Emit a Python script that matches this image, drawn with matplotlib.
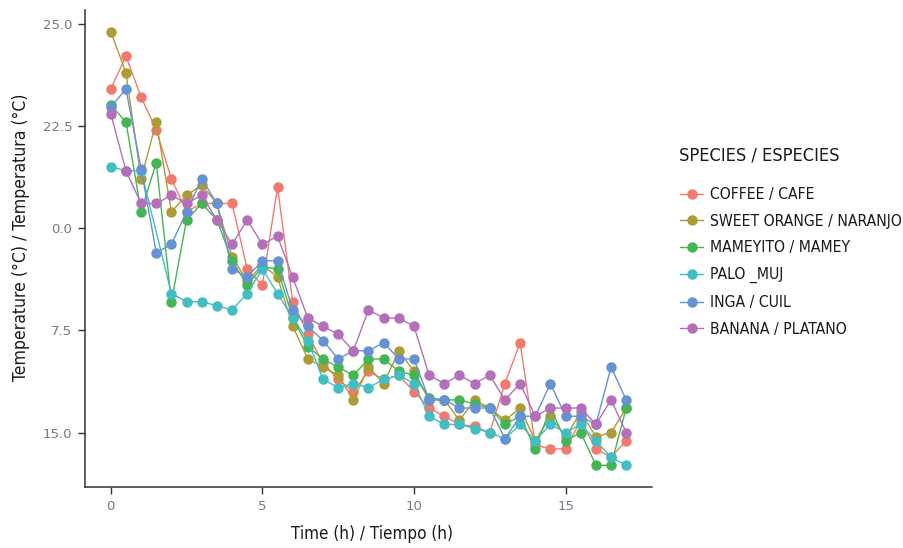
import numpy as np
import matplotlib
matplotlib.use('Agg')
import matplotlib.pyplot as plt
from matplotlib import font_manager
from matplotlib.font_manager import FontProperties
from matplotlib.textpath import TextPath

# time in hours (0 .. 17, every half hour)
time_h = np.arange(0, 17.5, 0.5)

coffee = [23.4, 24.2, 23.2, 22.4, 21.2, 20.4, 20.6, 20.6, 20.6, 19.0, 18.6, 21.0,
          18.2, 17.4, 16.7, 16.3, 16.0, 16.5, 16.3, 16.4, 16.0, 15.6, 15.4, 15.2,
          15.15, 15.0, 16.2, 17.2, 14.7, 14.6, 14.6, 15.3, 14.6, 14.4, 14.8]
orange = [24.8, 23.8, 21.2, 22.6, 20.4, 20.8, 21.05, 20.6, 19.3, 18.7, 19.1, 18.8,
          17.6, 16.8, 16.6, 16.4, 15.8, 16.6, 16.2, 17.0, 16.5, 15.8, 15.8, 15.3,
          15.8, 15.6, 15.3, 15.6, 14.8, 15.4, 14.9, 15.5, 14.9, 15.0, 15.6]
mamey = [23.0, 22.6, 20.4, 21.6, 18.2, 20.2, 20.6, 20.2, 19.2, 18.6, 19.05, 19.0,
         17.8, 17.1, 16.8, 16.6, 16.4, 16.8, 16.8, 16.5, 16.4, 15.85, 15.8, 15.8,
         15.7, 15.6, 15.2, 15.4, 14.6, 15.6, 14.8, 15.0, 14.2, 14.2, 15.6]
palo = [21.5, 21.4, 21.4, np.nan, 18.4, 18.2, 18.2, 18.1, 18.0, 18.4, 19.0, 18.4,
        17.8, 17.25, 16.3, 16.1, 16.2, 16.1, 16.3, 16.4, 16.2, 15.4, 15.2, 15.2,
        15.1, 15.0, 14.85, 15.2, 14.8, 15.2, 15.0, 15.2, 14.8, 14.4, 14.2]
inga = [22.95, 23.4, 21.45, 19.4, 19.6, 20.4, 21.2, 20.6, 19.0, 18.8, 19.2, 19.2,
        18.0, 17.6, 17.25, 16.8, 17.0, 17.0, 17.2, 16.8, 16.8, 15.8, 15.8, 15.6,
        15.6, 15.6, 14.85, 15.4, 15.4, 16.2, 15.4, 15.4, 15.2, 16.6, 15.8]
banana = [22.8, 21.4, 20.6, 20.6, 20.8, 20.6, 20.8, 20.2, 19.6, 20.2, 19.6, 19.8,
          18.8, 17.8, 17.6, 17.4, 17.0, 18.0, 17.8, 17.8, 17.6, 16.4, 16.2, 16.4,
          16.2, 16.4, 15.8, 16.2, 15.4, 15.6, 15.6, 15.6, 15.2, 15.8, 15.0]

names = ['COFFEE / CAFE', 'SWEET ORANGE / NARANJO', 'MAMEYITO / MAMEY',
         'PALO _MUJ', 'INGA / CUIL', 'BANANA / PLATANO']
colors = ['#F07A6E', '#AD9C34', '#43B551', '#41BEC1', '#6592D3', '#B46EBA']

yticks = [25.0, 22.5, 20.0, 17.5, 15.0]
ytick_labels = ['25.0', '22.5', '0.0', '7.5', '15.0']  # as printed (clipped) in the original
xticks = [0, 5, 10, 15]

# narrow font: use a condensed face if one is installed, else Roboto
narrow_file = None
for f in font_manager.fontManager.ttflist:
    if ('Narrow' in f.name or f.stretch in ('condensed', 'semi-condensed')) and f.weight in (400, 'normal', 'regular'):
        if f.style == 'normal':
            narrow_file = f.fname
            break


def narrow_font(size):
    if narrow_file:
        return FontProperties(fname=narrow_file, size=size)
    return FontProperties(family='Roboto', size=size)


def fit(text, width_px):
    # font size whose rendered width is width_px at 100 dpi
    w = TextPath((0, 0), text, size=10, prop=narrow_font(10)).get_extents().width
    return 10 * width_px / (w * 100 / 72)


fig = plt.figure(figsize=(9.04, 5.48), dpi=100)
ax = fig.add_axes([85 / 904, 1 - 487 / 548, 567 / 904, 477 / 548])

for vals, name, col in zip([coffee, orange, mamey, palo, inga, banana], names, colors):
    y = np.array(vals, dtype=float)
    ok = ~np.isnan(y)
    ax.plot(time_h[ok], y[ok], '-o', color=col, lw=1.0, ms=6.5, label=name)

ax.margins(x=0.05, y=0.05)
ax.set_xticks(xticks)
ax.set_yticks(yticks)
ax.set_yticklabels(ytick_labels)

for s in ['top', 'right']:
    ax.spines[s].set_visible(False)
for s in ['left', 'bottom']:
    ax.spines[s].set_color('#333333')
    ax.spines[s].set_linewidth(1.1)
ax.tick_params(length=5, width=1.0, color='#333333', labelcolor='#737A88',
               labelsize=9.5, pad=4)

xl = 'Time (h) / Tiempo (h)'
yl = 'Temperature (°C) / Temperatura (°C)'
ax.set_xlabel(xl, fontproperties=narrow_font(fit(xl, 161)), color='#1a1a1a')
ax.set_ylabel(yl, fontproperties=narrow_font(fit(yl, 285)), color='#1a1a1a')
ax.xaxis.set_label_coords(0.506, -0.080)
ax.yaxis.set_label_coords(-0.097, 0.524)

leg_title = 'SPECIES / ESPECIES'
fig.text(679 / 904, 1 - 156 / 548, leg_title, ha='left', va='center',
         fontproperties=narrow_font(fit(leg_title, 159)), color='#1a1a1a')

leg_size = fit('SWEET ORANGE / NARANJO', 190)
leg = fig.legend(loc='upper left', bbox_to_anchor=(680 / 904, 1 - 187 / 548),
                 frameon=False, borderpad=0, borderaxespad=0,
                 prop=narrow_font(leg_size), handlelength=1.5,
                 labelspacing=0.75, handletextpad=0.4)
for t in leg.get_texts():
    t.set_color('#1a1a1a')

fig.savefig('out.png', dpi=100)
